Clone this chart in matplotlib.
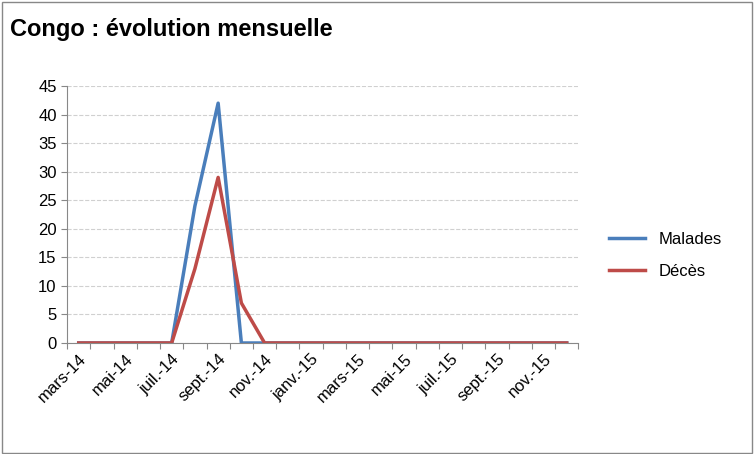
import matplotlib.pyplot as plt
from matplotlib.patches import Rectangle

months = ["mars-14", "avr.-14", "mai-14", "juin-14", "juil.-14", "août-14", "sept.-14", "oct.-14",
          "nov.-14", "déc.-14", "janv.-15", "févr.-15", "mars-15", "avr.-15", "mai-15", "juin-15",
          "juil.-15", "août-15", "sept.-15", "oct.-15", "nov.-15", "déc.-15"]
malades = [0, 0, 0, 0, 0, 24, 42, 0, 0, 0, 0, 0, 0, 0, 0, 0, 0, 0, 0, 0, 0, 0]
deces = [0, 0, 0, 0, 0, 13, 29, 7, 0, 0, 0, 0, 0, 0, 0, 0, 0, 0, 0, 0, 0, 0]

fig = plt.figure(figsize=(7.54, 4.54), dpi=100)
fig.patches.append(Rectangle((0.002, 0.003), 0.995, 0.993, transform=fig.transFigure,
                             fill=False, edgecolor='#888888', lw=1))
fig.text(0.013, 0.935, "Congo : évolution mensuelle", fontsize=17, fontweight='bold',
         family='Liberation Sans', va='center')

ax = fig.add_axes([0.089, 0.2445, 0.678, 0.566])
x = list(range(len(months)))
ax.plot(x, malades, color='#4a7ebb', lw=2.5, label='Malades')
ax.plot(x, deces, color='#be4b48', lw=2.5, label='Décès')
ax.set_xlim(-0.5, len(months) - 0.5)
ax.set_ylim(0, 45)
ax.set_yticks(range(0, 46, 5))
ax.yaxis.grid(True, linestyle='--', color='#d0d0d0', lw=0.8)
ax.set_axisbelow(True)
ax.set_xticks([i - 0.5 for i in range(len(months) + 1)], minor=False)
ax.set_xticklabels([])
ax.set_xticks(x[::2], minor=True)
ax.set_xticklabels(months[::2], minor=True, rotation=45, ha='right', rotation_mode='anchor',
                   fontsize=12, family='Liberation Sans')
ax.tick_params(axis='x', which='minor', length=0, pad=6)
ax.tick_params(axis='x', which='major', length=4, color='#888888')
ax.tick_params(axis='y', labelsize=12, length=4, color='#888888')
for lab in ax.get_yticklabels():
    lab.set_family('Liberation Sans')
for s in ['top', 'right']:
    ax.spines[s].set_visible(False)
for s in ['left', 'bottom']:
    ax.spines[s].set_color('#888888')
ax.legend(loc='center left', bbox_to_anchor=(1.03, 0.34), frameon=False,
          prop={'family': 'Liberation Sans', 'size': 12}, handlelength=2.2, labelspacing=1.0)

fig.savefig("out.png", dpi=100)
